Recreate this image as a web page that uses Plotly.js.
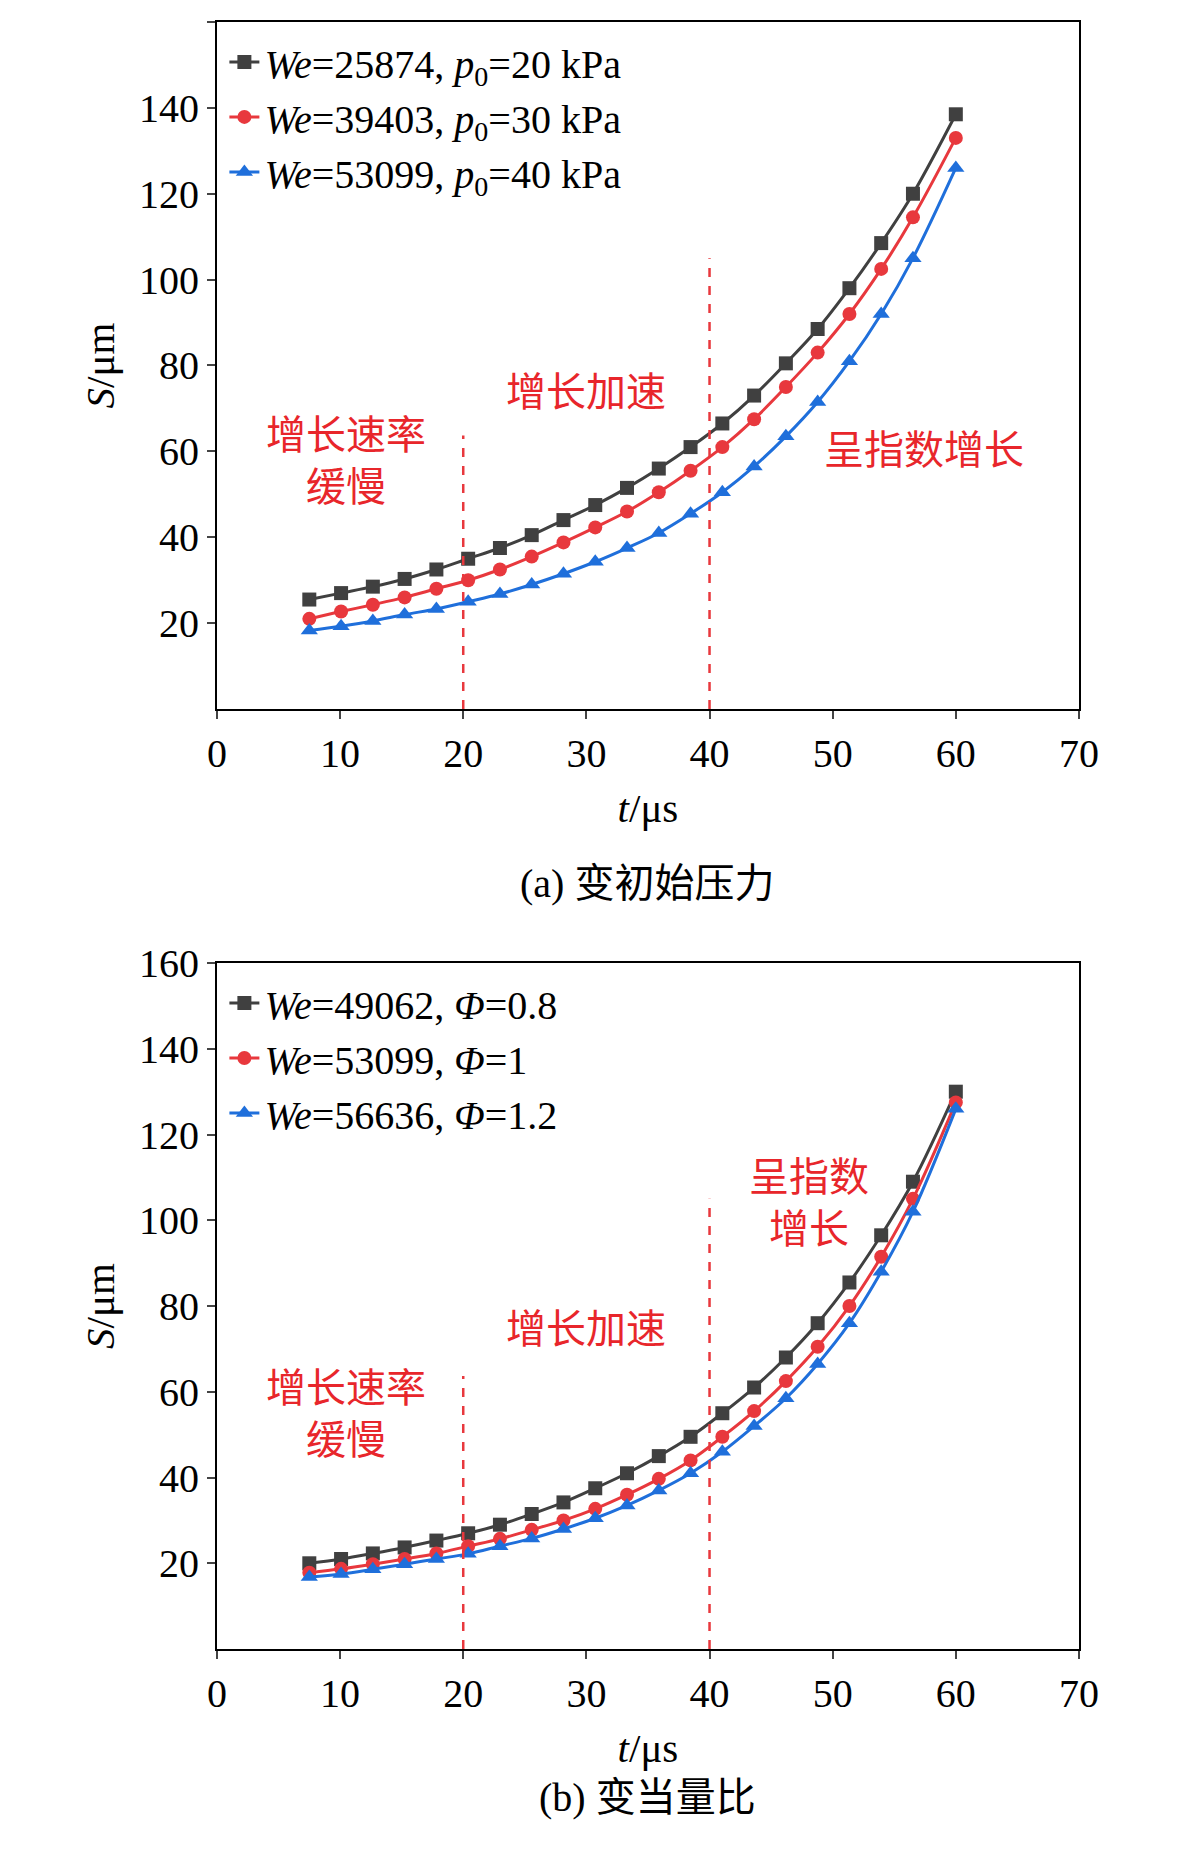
<!DOCTYPE html>
<html><head><meta charset="utf-8">
<script src="https://cdn.plot.ly/plotly-3.0.1.min.js"></script>
<style>body{margin:0;background:#fff}</style></head>
<body><div id="c" style="width:1181px;height:1861px"></div>
<script>
const tA = [7.5,10.08,12.66,15.24,17.82,20.4,22.98,25.56,28.14,30.72,33.3,35.88,38.46,41.04,43.62,46.2,48.78,51.36,53.94,56.52,60];
const aBlack = [25.5,27,28.5,30.3,32.5,35,37.5,40.5,44,47.5,51.5,56,61,66.5,73,80.5,88.5,98,108.5,120,138.5];
const aRed   = [21,22.7,24.3,26,28,30,32.5,35.5,38.8,42.3,46,50.5,55.5,61,67.5,75,83,92,102.5,114.5,133];
const aBlue  = [18.3,19.3,20.5,22,23.3,25,26.8,29,31.5,34.3,37.5,41,45.5,50.5,56.5,63.5,71.5,81,92,105,126];
const bBlack = [20,21,22.3,23.7,25.3,27,29,31.5,34.2,37.5,41,45,49.5,55,61,68,76,85.5,96.5,109,130];
const bRed   = [17.8,18.7,19.8,21,22.3,24,25.7,27.8,30,32.7,36,39.7,44,49.5,55.5,62.5,70.5,80,91.5,105,127.5];
const bBlue  = [16.8,17.5,18.6,19.8,21,22.2,24,25.8,28,30.5,33.5,37,41,46,52,58.5,66.5,76,88,102,126];
const namesA = ['<i>We</i>=25874, <i>p</i><sub>0</sub>=20 kPa','<i>We</i>=39403, <i>p</i><sub>0</sub>=30 kPa','<i>We</i>=53099, <i>p</i><sub>0</sub>=40 kPa'];
const namesB = ['<i>We</i>=49062, <i>Φ</i>=0.8','<i>We</i>=53099, <i>Φ</i>=1','<i>We</i>=56636, <i>Φ</i>=1.2'];
const colors = ['#404040','#e8383d','#1f6fdb'];
const symbols = ['square','circle','triangle-up'];
const F = 'Liberation Serif, Times New Roman, serif';
const CJK = 'Liberation Serif, Noto Sans CJK SC';
const traces = [];
[aBlack,aRed,aBlue].forEach((y,i)=>traces.push({x:tA,y:y,name:namesA[i],xaxis:'x',yaxis:'y',mode:'lines+markers',line:{color:colors[i],width:3,shape:'spline'},marker:{symbol:symbols[i],size:i==2?15:14,color:colors[i]},legend:'legend'}));
[bBlack,bRed,bBlue].forEach((y,i)=>traces.push({x:tA,y:y,name:namesB[i],xaxis:'x2',yaxis:'y2',mode:'lines+markers',line:{color:colors[i],width:3,shape:'spline'},marker:{symbol:symbols[i],size:i==2?15:14,color:colors[i]},legend:'legend2'}));
const ax = {range:[0,70],dtick:10,ticks:'outside',ticklen:8,tickwidth:2,showline:true,mirror:true,linecolor:'#000',linewidth:2,showgrid:false,zeroline:false,tickfont:{family:F,size:40,color:'#000'}};
const ay = {range:[0,160],tickvals:[20,40,60,80,100,120,140,160],ticks:'outside',ticklen:8,tickwidth:2,showline:true,mirror:true,linecolor:'#000',linewidth:2,showgrid:false,zeroline:false,tickfont:{family:F,size:40,color:'#000'}};
const xt = {text:'<i>t</i>/μs',font:{family:F,size:41,color:'#000'},standoff:18};
const yt = {text:'<i>S</i>/μm',font:{family:F,size:41,color:'#000'},standoff:12};
const splits = [20,40];
const splitTops = [63.7,105];
const shapes = [];
['x','x2'].forEach((xr,k)=>splits.forEach((s,j)=>shapes.push({type:'line',xref:xr,yref:k?'y2':'y',x0:s,x1:s,y0:0,y1:splitTops[j],line:{color:'#e8383d',width:2.5,dash:'dash'}})));
const red = {family:CJK,size:40,color:'#e8262b'};
const notes = [
 {xref:'x',yref:'y',x:10.5,y:57.7,text:'增长速率<br>缓慢'},
 {xref:'x',yref:'y',x:30,y:73.7,text:'增长加速'},
 {xref:'x',yref:'y',x:57.4,y:60.2,text:'呈指数增长'},
 {xref:'x2',yref:'y2',x:10.5,y:54.7,text:'增长速率<br>缓慢'},
 {xref:'x2',yref:'y2',x:30,y:74.5,text:'增长加速'},
 {xref:'x2',yref:'y2',x:48.1,y:104,text:'呈指数<br>增长'}
].map(a=>Object.assign(a,{showarrow:false,font:red}));
notes.push({xref:'paper',yref:'paper',x:0.548,y:1-883/1861,text:'(a) 变初始压力',showarrow:false,font:{family:CJK,size:40,color:'#000'}});
notes.push({xref:'paper',yref:'paper',x:0.548,y:1-1822/1861,text:'(b) 变当量比',showarrow:false,font:{family:CJK,size:40,color:'#000'}});
const layout = {
 width:1181,height:1861,margin:{l:0,r:0,t:0,b:0},paper_bgcolor:'#fff',plot_bgcolor:'#fff',
 xaxis:Object.assign({},ax,{domain:[0.1837,0.9136],anchor:'y',title:xt}),
 yaxis:Object.assign({},ay,{domain:[0.619,0.9882],anchor:'x',title:yt}),
 xaxis2:Object.assign({},ax,{domain:[0.1837,0.9136],anchor:'y2',title:xt}),
 yaxis2:Object.assign({},ay,{domain:[0.1139,0.4825],anchor:'x2',title:yt}),
 legend:{x:0.19,y:0.9882-0.004,xanchor:'left',yanchor:'top',bgcolor:'rgba(0,0,0,0)',font:{family:F,size:40,color:'#000'},tracegroupgap:0},
 legend2:{x:0.19,y:0.4825-0.004,xanchor:'left',yanchor:'top',bgcolor:'rgba(0,0,0,0)',font:{family:F,size:40,color:'#000'},tracegroupgap:0},
 shapes:shapes,annotations:notes
};
Plotly.newPlot('c',traces,layout,{displayModeBar:false});
</script></body></html>
